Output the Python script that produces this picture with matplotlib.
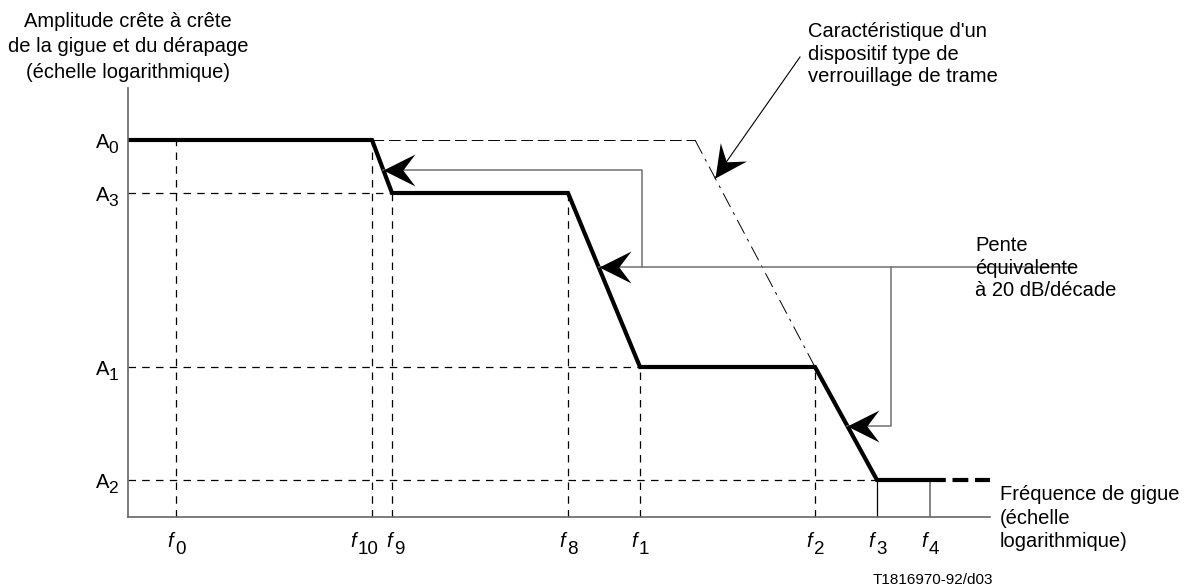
import numpy as np
import matplotlib
matplotlib.use("Agg")
import matplotlib.pyplot as plt
from matplotlib.path import Path
from matplotlib.markers import MarkerStyle
from matplotlib.transforms import Affine2D

plt.rcParams['font.family'] = ['Liberation Sans', 'DejaVu Sans']

# ---- data (log-frequency / log-amplitude units, schematic) ----
freq_names = ['0', '10', '9', '8', '1', '2', '3', '4']
freq_pos = [0.48, 2.44, 2.64, 4.40, 5.12, 6.87, 7.49, 8.02]
amp_names = ['0', '3', '1', '2']
amp_pos = [3.77, 3.24, 1.50, 0.37]
x_max = 8.62
y_max = 4.29
frame_knee = 5.67          # knee of the frame-lock characteristic
bracket_x1 = 5.14          # vertical of upper leader
bracket_x2 = 7.63          # vertical of lower leader
leader_end = 9.45
arrow_levels = [3.47, 2.50, 0.91]
char_arrow_level = 3.39
char_line_start = (6.72, 4.60)

F = dict(zip(freq_names, freq_pos))
A = dict(zip(amp_names, amp_pos))

W, H = 1192, 587
fig = plt.figure(figsize=(W / 100, H / 100), dpi=100)
ax = fig.add_axes([128 / W, (H - 517) / H, (990 - 128) / W, (517 - 88) / H])
ax.set_xlim(0, x_max)
ax.set_ylim(0, y_max)
for s in ['top', 'right']:
    ax.spines[s].set_visible(False)
for s in ['left', 'bottom']:
    ax.spines[s].set_color('#666666')
    ax.spines[s].set_linewidth(1.2)
ax.set_xticks([])
ax.set_yticks([])

# tick labels drawn as letter + lowered index
label_shift = {'10': -13, '9': 3}
for n, x in zip(freq_names, freq_pos):
    dx = label_shift.get(n, 0)
    ax.annotate('f', (x, 0), xytext=(dx - 3, -30), textcoords='offset pixels',
                ha='right', va='baseline', fontsize=14.5, style='italic', annotation_clip=False)
    ax.annotate(n, (x, 0), xytext=(dx - 1, -37), textcoords='offset pixels',
                ha='left', va='baseline', fontsize=13.5, annotation_clip=False)
for n, y in zip(amp_names, amp_pos):
    ax.annotate(n, (0, y), xytext=(-10, -13), textcoords='offset pixels',
                ha='right', va='baseline', fontsize=12.5, annotation_clip=False)
    ax.annotate('A', (0, y), xytext=(-19, -8), textcoords='offset pixels',
                ha='right', va='baseline', fontsize=14.5, annotation_clip=False)

dash_kw = dict(color='black', lw=0.9, dashes=(6, 5))
gray = '#707070'

# vertical dashed guides
for fn, an in [('0', '0'), ('10', '0'), ('9', '3'), ('8', '3'), ('1', '1'), ('2', '1')]:
    ax.plot([F[fn], F[fn]], [0, A[an]], **dash_kw)
# horizontal dashed guides
for fn, an in [('9', '3'), ('1', '1'), ('3', '2')]:
    ax.plot([0, F[fn]], [A[an], A[an]], **dash_kw)
# solid verticals under f3 and f4
ax.plot([F['3'], F['3']], [0, A['2']], color='black', lw=0.9)
ax.plot([F['4'], F['4']], [0, A['2']], color=gray, lw=1.2)

# frame-lock characteristic (thin dash-dot)
ax.plot([F['10'], frame_knee], [A['0'], A['0']], color='black', lw=0.7, dashes=(12, 5))
ax.plot([frame_knee, F['2']], [A['0'], A['1']], color='black', lw=0.7, dashes=(16, 6, 3, 6))

# main thick mask
xs = [0, F['10'], F['9'], F['8'], F['1'], F['2'], F['3'], F['4']]
ys = [A['0'], A['0'], A['3'], A['3'], A['1'], A['1'], A['2'], A['2']]
ax.plot(xs, ys, color='black', lw=3, solid_joinstyle='miter', solid_capstyle='butt')
ax.plot([F['4'], x_max], [A['2'], A['2']], color='black', lw=3, dashes=(3.8, 1.6))


def on_seg(p0, p1, y):
    t = (y - p0[1]) / (p1[1] - p0[1])
    return p0[0] + t * (p1[0] - p0[0])


a1x = on_seg((F['10'], A['0']), (F['9'], A['3']), arrow_levels[0])
a2x = on_seg((F['8'], A['3']), (F['1'], A['1']), arrow_levels[1])
a3x = on_seg((F['2'], A['1']), (F['3'], A['2']), arrow_levels[2])
cax = on_seg((frame_knee, A['0']), (F['2'], A['1']), char_arrow_level)

# leader lines
ax.plot([a1x, bracket_x1, bracket_x1], [arrow_levels[0], arrow_levels[0], arrow_levels[1]], color=gray, lw=1.1)
ax.plot([a2x, leader_end], [arrow_levels[1], arrow_levels[1]], color=gray, lw=1.1, clip_on=False)
ax.plot([bracket_x2, bracket_x2, a3x], [arrow_levels[1], arrow_levels[2], arrow_levels[2]], color=gray, lw=1.1)
ax.plot([char_line_start[0], cax], [char_line_start[1], char_arrow_level], color='black', lw=0.8, clip_on=False)

# barbed arrowheads (tip at origin, pointing to +x)
head = Path([(0, 0), (-1.0, 0.5), (-0.62, 0), (-1.0, -0.5), (0, 0)],
            [Path.MOVETO, Path.LINETO, Path.LINETO, Path.LINETO, Path.CLOSEPOLY])


def arrowhead(tip, frm):
    p_tip = ax.transData.transform(tip)
    p_frm = ax.transData.transform(frm)
    ang = np.degrees(np.arctan2(p_tip[1] - p_frm[1], p_tip[0] - p_frm[0]))
    m = MarkerStyle(head, transform=Affine2D().rotate_deg(ang))
    ax.plot([tip[0]], [tip[1]], marker=m, markersize=46, color='black', mew=0, clip_on=False)


arrowhead((a1x, arrow_levels[0]), (bracket_x1, arrow_levels[0]))
arrowhead((a2x, arrow_levels[1]), (leader_end, arrow_levels[1]))
arrowhead((a3x, arrow_levels[2]), (bracket_x2, arrow_levels[2]))
arrowhead((cax, char_arrow_level), char_line_start)

# texts
ax.text(0, 4.70, "Amplitude crête à crête\nde la gigue et du dérapage\n(échelle logarithmique)",
        ha='center', va='center', fontsize=14.5, linespacing=1.45, clip_on=False)
ax.text(6.80, 4.63, "Caractéristique d'un\ndispositif type de\nverrouillage de trame",
        ha='left', va='center', fontsize=14.5, linespacing=1.25, clip_on=False)
ax.text(8.47, 2.49, "Pente\néquivalente\nà 20 dB/décade",
        ha='left', va='center', fontsize=14.5, linespacing=1.25, clip_on=False)
ax.text(8.72, -0.01, "Fréquence de gigue\n(échelle\nlogarithmique)",
        ha='left', va='center', fontsize=14.5, linespacing=1.31, clip_on=False)
ax.text(8.65, -0.63, "T1816970-92/d03", ha='right', va='center', fontsize=11, clip_on=False)

fig.savefig('out.png', dpi=100)
